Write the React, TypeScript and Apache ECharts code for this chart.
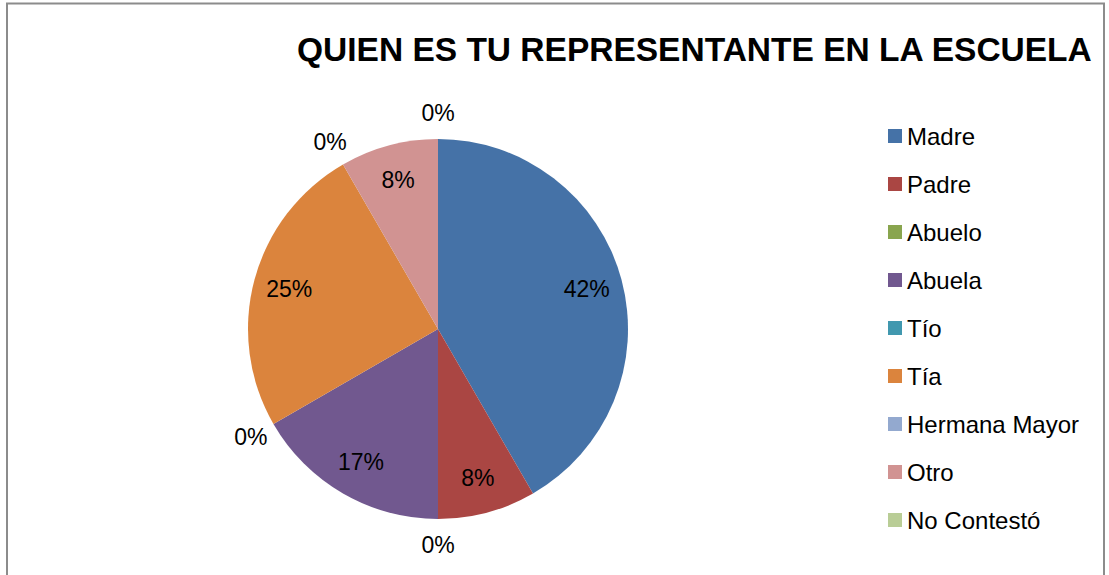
import React, { useEffect, useRef } from "react";
import * as echarts from "echarts";

const titleText = "QUIEN ES TU REPRESENTANTE EN LA ESCUELA";
const categories = ["Madre", "Padre", "Abuelo", "Abuela", "Tío", "Tía", "Hermana Mayor", "Otro", "No Contestó"];
const counts = [5, 1, 0, 2, 0, 3, 0, 1, 0];
const colors = ["#4572A7", "#AA4643", "#89A54E", "#71588F", "#4198AF", "#DB843D", "#93A9CF", "#D19392", "#B9CD96"];

export default function App() {
  const ref = useRef<HTMLDivElement>(null);
  useEffect(() => {
    if (!ref.current) return;
    const chart = echarts.init(ref.current, null, { renderer: "svg" });
    const font = "'Liberation Sans', Arial, sans-serif";
    const labelStyle = {
      color: "#000",
      fontSize: 23,
      fontFamily: font,
      formatter: "{d}%",
      position: "inside",
    };
    const mainData = categories.map((n, i) => ({ name: n, value: counts[i], itemStyle: { color: colors[i] } }));
    const innerLabelData = categories.map((n, i) => ({
      name: n,
      value: counts[i],
      itemStyle: { color: "transparent" },
      label: { show: counts[i] > 0 },
    }));
    const outerLabelData = categories.map((n, i) => ({
      name: n,
      value: counts[i],
      itemStyle: { color: "transparent" },
      label: { show: counts[i] === 0 },
    }));
    const center = [438, 329];
    chart.setOption({
      animation: false,
      backgroundColor: "#fff",
      title: {
        text: titleText,
        left: 292,
        top: 27,
        textStyle: { fontSize: 33.5, fontWeight: "bold", color: "#000", fontFamily: font },
      },
      legend: {
        orient: "vertical",
        left: 883,
        top: 119,
        itemWidth: 14,
        itemHeight: 14,
        itemGap: 24,
        icon: "rect",
        data: categories,
        textStyle: { fontSize: 24, lineHeight: 24, color: "#000", fontFamily: font },
      },
      graphic: [
        {
          type: "rect",
          shape: { x: 7, y: 3.5, width: 1097, height: 620 },
          style: { fill: "none", stroke: "#8c8c8c", lineWidth: 2 },
          silent: true,
        },
      ],
      series: [
        {
          type: "pie",
          center,
          radius: [0, 190],
          startAngle: 90,
          clockwise: true,
          percentPrecision: 0,
          label: { show: false },
          labelLine: { show: false },
          itemStyle: { borderWidth: 0 },
          emphasis: { disabled: true },
          silent: true,
          data: mainData,
        },
        {
          type: "pie",
          center,
          radius: [0, 302],
          startAngle: 90,
          clockwise: true,
          percentPrecision: 0,
          avoidLabelOverlap: false,
          label: labelStyle,
          labelLine: { show: false },
          emphasis: { disabled: true },
          silent: true,
          data: innerLabelData,
        },
        {
          type: "pie",
          center,
          radius: [0, 426],
          startAngle: 90,
          clockwise: true,
          percentPrecision: 0,
          avoidLabelOverlap: false,
          label: labelStyle,
          labelLine: { show: false },
          emphasis: { disabled: true },
          silent: true,
          data: outerLabelData,
        },
      ],
    });
    return () => chart.dispose();
  }, []);
  return (
    <div
      ref={ref}
      style={{ position: "fixed", left: 0, top: 0, width: 1109, height: 575 }}
    />
  );
}
